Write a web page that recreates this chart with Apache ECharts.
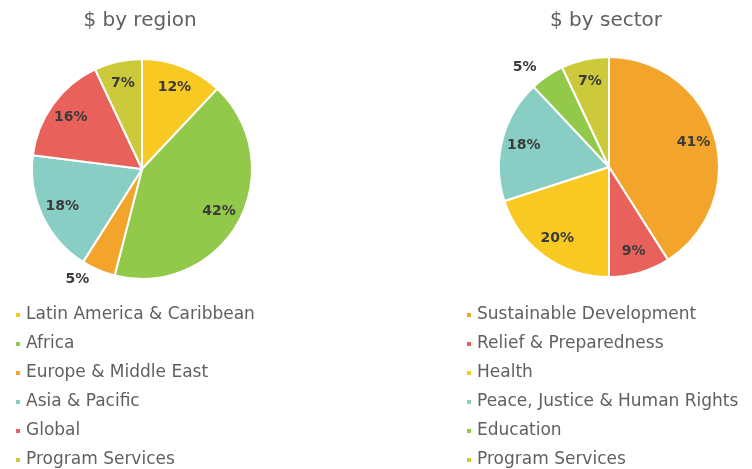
<!DOCTYPE html>
<html>
<head>
<meta charset="utf-8">
<script src="https://cdn.jsdelivr.net/npm/echarts@6/dist/echarts.min.js"></script>
<style>
  html, body { margin: 0; padding: 0; background: #fff; }
  #chart { width: 752px; height: 469px; }
</style>
</head>
<body>
<div id="chart"></div>
<script>
const regionNames = ['Latin America & Caribbean', 'Africa', 'Europe & Middle East', 'Asia & Pacific', 'Global', 'Program Services'];
const regionValues = [12, 42, 5, 18, 16, 7];
const regionColors = ['#f9c923', '#92c94a', '#f2a52a', '#88cec4', '#e8625b', '#ccca3b'];

const sectorNames = ['Sustainable Development', 'Relief & Preparedness', 'Health', 'Peace, Justice & Human Rights', 'Education', 'Program Services'];
const sectorValues = [41, 9, 20, 18, 5, 7];
const sectorColors = ['#f2a52a', '#e8625b', '#f9c923', '#88cec4', '#92c94a', '#ccca3b'];

const font = 'DejaVu Sans';
const textGray = '#606060';
const labelDark = '#3b3b3b';

// small slices get their label outside, like the original
const isSmall = (v) => v < 6;

function pieSeries(names, values, colors, center) {
  const labelStyle = { fontFamily: font, fontSize: 14, fontWeight: 'bold', color: labelDark, formatter: '{c}%' };
  const main = {
    type: 'pie',
    radius: 110,
    center,
    startAngle: 90,
    clockwise: true,
    emphasis: { disabled: true },
    itemStyle: { borderColor: '#fff', borderWidth: 2 },
    label: { ...labelStyle, position: 'outside' },
    labelLine: { show: false, length: 10, length2: 0 },
    data: values.map((v, i) => ({
      name: names[i],
      value: v,
      itemStyle: { color: colors[i] },
      label: { show: isSmall(v) },
    })),
  };
  // transparent twin, only used to put the inside labels further out than 'inner' would
  const labels = {
    type: 'pie',
    radius: 170,
    center,
    startAngle: 90,
    clockwise: true,
    silent: true,
    emphasis: { disabled: true },
    itemStyle: { color: 'rgba(0,0,0,0)' },
    label: { ...labelStyle, position: 'inside' },
    labelLine: { show: false },
    data: values.map((v, i) => ({
      name: names[i],
      value: v,
      label: { show: !isSmall(v) },
    })),
  };
  return [main, labels];
}

function legend(names, left) {
  return {
    orient: 'vertical',
    left,
    top: 305,
    height: 200,
    data: names,
    icon: 'rect',
    itemWidth: 6,
    itemHeight: 6,
    itemGap: 9,
    padding: 0,
    selectedMode: false,
    textStyle: { fontFamily: font, fontSize: 17, color: textGray, lineHeight: 20 },
  };
}

const chart = echarts.init(document.getElementById('chart'));
chart.setOption({
  animation: false,
  title: [
    { text: '$ by region', left: 135, top: 6, textAlign: 'center', textStyle: { fontFamily: font, fontSize: 20, fontWeight: 'normal', color: textGray } },
    { text: '$ by sector', left: 601, top: 6, textAlign: 'center', textStyle: { fontFamily: font, fontSize: 20, fontWeight: 'normal', color: textGray } },
  ],
  legend: [legend(regionNames, 14), legend(sectorNames, 465)],
  series: [
    ...pieSeries(regionNames, regionValues, regionColors, [142, 169]),
    ...pieSeries(sectorNames, sectorValues, sectorColors, [609, 167]),
  ],
});
</script>
</body>
</html>
